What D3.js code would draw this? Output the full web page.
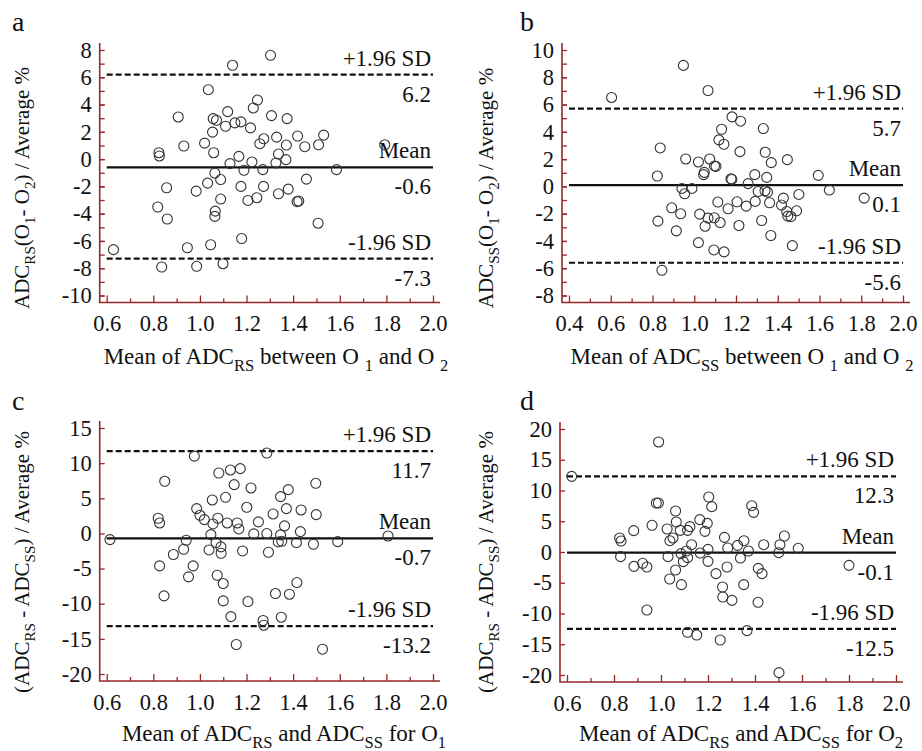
<!DOCTYPE html>
<html>
<head>
<meta charset="utf-8">
<script src="https://cdnjs.cloudflare.com/ajax/libs/d3/7.8.5/d3.min.js"></script>
<style>
  body { margin: 0; background: #fff; }
  svg text { font-family: "Liberation Serif", "Times New Roman", serif; fill: #111; }
</style>
</head>
<body>
<svg id="chart" width="922" height="751"></svg>
<script>
// panel a : ADC_RS, O1 vs O2
const aX = [1.303,1.140,1.036,1.247,1.229,1.119,0.907,1.057,1.071,1.307,1.374,1.150,1.176,1.110,1.217,1.054,
    1.274,1.329,1.419,1.531,1.020,0.931,1.257,1.371,1.450,1.509,1.793,0.824,0.826,1.059,1.167,1.337,
    1.369,1.129,1.223,1.326,1.586,1.064,1.189,1.270,1.089,1.033,1.457,0.857,0.984,1.176,1.273,1.379,
    1.337,1.089,1.206,1.244,1.417,1.424,0.819,1.066,1.064,0.860,1.507,1.179,0.629,0.946,1.046,0.836,
    0.986,1.099];
const aY = [7.61,6.88,5.09,4.33,3.75,3.48,3.09,2.97,2.85,3.19,2.97,2.66,2.73,2.41,2.29,1.98,
    1.49,1.61,1.69,1.76,1.17,0.96,1.13,1.03,0.91,1.05,1.05,0.47,0.23,0.47,0.20,0.37,
    -0.04,-0.33,-0.21,-0.28,-0.77,-1.03,-0.82,-0.77,-1.50,-1.76,-1.47,-2.10,-2.35,-2.00,-2.00,-2.20,
    -2.54,-2.93,-3.03,-2.83,-3.12,-3.07,-3.51,-3.81,-4.20,-4.39,-4.70,-5.82,-6.64,-6.50,-6.28,-7.91,
    -7.86,-7.67];
const aLimits = [6.2, -0.6, -7.3];
const aTicksX = [0.6, 0.8, 1.0, 1.2, 1.4, 1.6, 1.8, 2.0];
const aTicksY = [-10, -8, -6, -4, -2, 0, 2, 4, 6, 8];

// panel b : ADC_SS, O1 vs O2
const bX = [0.948,0.604,1.066,1.181,1.222,1.131,1.331,1.118,1.142,0.837,1.219,1.340,0.959,1.020,1.074,1.446,
    1.369,1.097,1.104,1.045,1.048,0.823,1.176,1.180,1.290,1.347,1.594,1.258,0.941,0.989,0.954,1.306,
    1.339,1.351,1.647,1.814,1.501,1.113,1.205,1.292,1.361,1.427,1.249,1.418,0.892,1.162,1.443,1.490,
    0.935,1.026,1.066,1.096,1.448,1.463,0.826,1.124,1.323,1.052,1.214,0.914,1.367,1.020,1.470,1.094,
    1.143,0.845];
const bY = [8.87,6.52,7.03,5.10,4.78,4.19,4.24,3.41,3.09,2.82,2.55,2.50,2.01,1.79,2.01,1.96,
    1.74,1.50,1.47,0.86,1.03,0.76,0.56,0.51,0.86,0.66,0.81,0.20,-0.15,-0.15,-0.54,-0.37,
    -0.32,-0.42,-0.27,-0.86,-0.59,-1.15,-1.13,-1.10,-1.20,-0.86,-1.45,-1.37,-1.57,-1.64,-1.84,-1.79,
    -2.01,-2.03,-2.33,-2.30,-2.18,-2.21,-2.55,-2.65,-2.50,-2.92,-2.87,-3.26,-3.60,-4.12,-4.34,-4.66,
    -4.80,-6.15];
const bLimits = [5.7, 0.1, -5.6];
const bTicksX = [0.4, 0.6, 0.8, 1.0, 1.2, 1.4, 1.6, 1.8, 2.0];
const bTicksY = [-8, -6, -4, -2, 0, 2, 4, 6, 8, 10];

// panel c : RS vs SS, O1
const cX = [0.976,1.287,1.173,1.131,1.081,0.849,1.497,1.147,1.219,1.379,1.346,1.110,1.053,1.201,0.986,1.371,
    1.434,1.000,1.314,1.499,0.821,0.827,1.019,1.077,1.056,1.117,1.160,1.251,1.363,1.167,1.431,1.047,
    1.231,1.287,1.346,1.807,0.614,0.941,1.069,1.336,1.351,1.414,1.487,1.591,1.090,0.930,1.039,1.091,
    1.183,1.294,0.886,0.827,0.971,0.951,1.074,1.100,1.416,0.846,1.324,1.384,1.100,1.206,1.133,1.271,
    1.274,1.349,1.156,1.526];
const cY = [11.0,11.44,9.22,9.03,8.60,7.42,7.13,6.94,6.47,6.23,5.24,5.14,4.76,3.72,3.53,3.53,
    3.34,2.58,2.77,2.68,2.16,1.49,1.97,2.16,1.35,1.49,1.49,1.64,1.07,0.64,0.26,-0.17,
    -0.07,-0.02,-0.21,-0.36,-0.88,-0.97,-1.30,-1.21,-1.11,-1.30,-1.54,-1.16,-1.92,-2.25,-2.35,-2.82,
    -2.49,-2.68,-3.00,-4.62,-4.62,-6.18,-5.95,-7.13,-6.99,-8.89,-8.55,-8.65,-9.60,-9.69,-11.83,-12.39,
    -13.06,-11.92,-15.80,-16.47];
const cLimits = [11.7, -0.7, -13.2];
const cTicksX = [0.6, 0.8, 1.0, 1.2, 1.4, 1.6, 1.8, 2.0];
const cTicksY = [-20, -15, -10, -5, 0, 5, 10, 15];

// panel d : RS vs SS, O2
const dX = [0.990,0.620,1.203,1.216,0.980,0.989,1.386,1.394,1.062,1.165,1.197,1.065,0.962,1.123,0.884,1.026,
    1.082,1.113,1.187,0.824,0.830,1.051,1.038,1.270,1.353,1.525,1.130,1.326,1.437,1.506,1.584,1.284,
    1.200,1.372,1.108,1.167,1.085,1.501,0.828,1.030,1.113,1.338,1.095,1.200,0.885,0.922,0.940,1.281,
    1.414,1.800,1.062,1.234,1.430,1.037,1.087,1.262,1.352,1.263,1.302,1.413,0.940,1.113,1.152,1.252,
    1.366,1.502];
const dY = [17.89,12.30,8.94,7.37,7.97,7.97,7.53,6.45,6.67,5.26,4.66,4.88,4.34,4.12,3.47,3.74,
    3.52,3.52,3.36,2.28,1.79,2.28,1.84,2.38,1.84,2.60,1.19,1.08,1.19,1.19,0.60,0.65,
    0.43,0.16,0.16,-0.16,-0.27,-0.11,-0.76,-0.76,-0.92,-0.98,-1.57,-1.52,-2.33,-1.84,-2.44,-2.44,
    -2.66,-2.17,-2.93,-3.52,-3.52,-4.39,-5.31,-5.69,-5.31,-7.32,-7.86,-8.18,-9.43,-13.06,-13.50,-14.31,
    -12.79,-19.62];
const dLimits = [12.3, -0.1, -12.5];
const dTicksX = [0.6, 0.8, 1.0, 1.2, 1.4, 1.6, 1.8, 2.0];
const dTicksY = [-20, -15, -10, -5, 0, 5, 10, 15, 20];

const limitNames = ['+1.96 SD', 'Mean', '-1.96 SD'];

let svg = d3.select('#chart')
let axis_color = '#962828'
let pad = 7
let fs = 23

// text with subscripts, parts starting with "_" are subscripts
let rich = function(el, parts, size) {
    let down = false
    parts.forEach(p => {
        let isSub = p[0] === '_'
        let t = el.append('tspan').text(isSub ? p.slice(1) : p)
        if (isSub) {
            t.attr('font-size', size * 0.72)
            if (!down) t.attr('dy', size * 0.3)
            down = true
        } else {
            if (down) t.attr('dy', -size * 0.3)
            down = false
        }
    })
}

let drawPanel = function(p) {
    let x = d3.scaleLinear()
        .domain([p.ticksX[0], p.ticksX[p.ticksX.length - 1]])
        .range([p.x0, p.x1])
    let y = d3.scaleLinear()
        .domain([p.ticksY[0], p.ticksY[p.ticksY.length - 1]])
        .range([p.yBot, p.yTop])
    let axX = p.x0 - pad, axY = p.yBot + pad
    let g = svg.append('g')

    // y axis
    let yg = g.append('g').attr('transform', `translate(${axX},0)`)
        .call(d3.axisLeft(y).tickValues(p.ticksY).tickSize(-5).tickPadding(8).tickFormat(d => String(d)))
    if (p.minorY) {
        yg.append('g').call(d3.axisLeft(y).tickValues(d3.range(p.ticksY[0], p.ticksY[p.ticksY.length - 1], p.minorY))
            .tickSize(-5).tickFormat(''))
    }
    // x axis
    let xg = g.append('g').attr('transform', `translate(0,${axY})`)
        .call(d3.axisBottom(x).tickValues(p.ticksX).tickSize(-7).tickPadding(13).tickFormat(d3.format('.1f')))
    xg.append('g').call(d3.axisBottom(x).tickValues(d3.range(p.ticksX[0] + 0.1, p.ticksX[p.ticksX.length - 1], 0.2))
        .tickSize(-4).tickFormat(''))

    g.selectAll('.domain').remove()
    g.selectAll('.tick line').attr('stroke', axis_color).attr('stroke-width', 1.3)
    g.selectAll('.tick text').attr('font-size', 22.5).attr('fill', '#111')
        .style('font-family', '"Liberation Serif", "Times New Roman", serif')

    g.append('path')
        .attr('d', `M${axX},${p.yTop - pad}V${axY}H${p.x1 + pad}`)
        .attr('fill', 'none').attr('stroke', axis_color).attr('stroke-width', 1.6)

    // limits of agreement
    p.limits.forEach((v, i) => {
        g.append('line')
            .attr('x1', x(p.ticksX[0])).attr('x2', x(p.ticksX[p.ticksX.length - 1]))
            .attr('y1', y(v)).attr('y2', y(v))
            .attr('stroke', '#111').attr('stroke-width', 2.2)
            .attr('stroke-dasharray', i === 1 ? null : '6,3')
        g.append('text').attr('x', p.x1 - 2).attr('y', y(v) - 9)
            .attr('text-anchor', 'end').attr('font-size', fs).text(limitNames[i])
        g.append('text').attr('x', p.x1 - 2).attr('y', y(v) + 27)
            .attr('text-anchor', 'end').attr('font-size', fs).text(v.toFixed(1))
    })

    // points
    g.selectAll('circle')
        .data(p.xs.map((d, i) => [d, p.ys[i]]))
        .enter()
        .append('circle')
            .attr('cx', d => x(d[0]))
            .attr('cy', d => y(d[1]))
            .attr('r', 5)
            .attr('fill', 'none')
            .attr('stroke', '#333')
            .attr('stroke-width', 1.1)

    // titles
    g.append('text').attr('x', p.letter[0]).attr('y', p.letter[1])
        .attr('font-size', 28).text(p.name)
    let yt = g.append('text')
        .attr('transform', `translate(${p.yTitlePos[0]},${p.yTitlePos[1]}) rotate(-90)`)
        .attr('text-anchor', 'middle').attr('font-size', 21)
    rich(yt, p.yTitle, 21)
    let xt = g.append('text').attr('x', p.xTitlePos[0]).attr('y', p.xTitlePos[1])
        .attr('text-anchor', 'middle').attr('font-size', fs)
    rich(xt, p.xTitle, fs)
}

let panels = [
    {name: 'a', xs: aX, ys: aY, limits: aLimits, ticksX: aTicksX, ticksY: aTicksY, minorY: 1,
     x0: 106.7, x1: 433, yTop: 50, yBot: 295.5, letter: [12, 31],
     yTitlePos: [29, 188], xTitlePos: [276, 364],
     yTitle: ['ADC', '_RS', '(O', '_1', '- O', '_2', ') / Average %'],
     xTitle: ['Mean of ADC', '_RS', ' between O ', '_1', ' and O ', '_2']},
    {name: 'b', xs: bX, ys: bY, limits: bLimits, ticksX: bTicksX, ticksY: bTicksY, minorY: 1,
     x0: 569, x1: 903, yTop: 50, yBot: 295.5, letter: [520, 31],
     yTitlePos: [493, 188], xTitlePos: [742, 364],
     yTitle: ['ADC', '_SS', '(O', '_1', '- O', '_2', ') / Average %'],
     xTitle: ['Mean of ADC', '_SS', ' between O ', '_1', ' and O ', '_2']},
    {name: 'c', xs: cX, ys: cY, limits: cLimits, ticksX: cTicksX, ticksY: cTicksY, minorY: null,
     x0: 106.7, x1: 433, yTop: 428, yBot: 674, letter: [12, 410],
     yTitlePos: [29, 562], xTitlePos: [284, 741],
     yTitle: ['(ADC', '_RS', ' - ADC', '_SS', ') / Average %'],
     xTitle: ['Mean of ADC', '_RS', ' and ADC', '_SS', ' for O', '_1']},
    {name: 'd', xs: dX, ys: dY, limits: dLimits, ticksX: dTicksX, ticksY: dTicksY, minorY: null,
     x0: 567, x1: 896, yTop: 429, yBot: 675, letter: [520, 410],
     yTitlePos: [493, 562], xTitlePos: [741, 741],
     yTitle: ['(ADC', '_RS', ' - ADC', '_SS', ') / Average %'],
     xTitle: ['Mean of ADC', '_RS', ' and ADC', '_SS', ' for O', '_2']}
]

panels.forEach(drawPanel)
</script>
</body>
</html>
